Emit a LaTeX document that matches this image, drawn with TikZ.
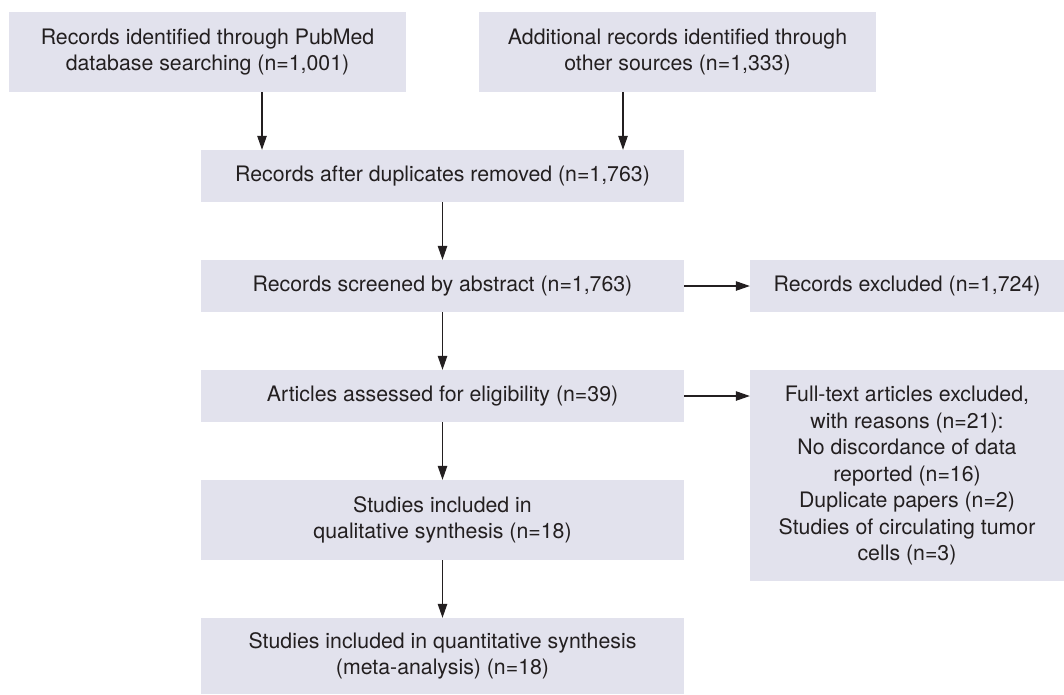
\documentclass[tikz,border=0pt]{standalone}
\usepackage{fontspec}
\setmainfont{TeX Gyre Heros}
\usepackage{tikz}
\usetikzlibrary{arrows.meta}
\usetikzlibrary{calc}
\definecolor{boxgray}{RGB}{226,226,237}
\definecolor{inkgray}{RGB}{35,31,32}
\tikzset{box/.style = {fill=boxgray, text=inkgray, align=center, inner sep=0pt,
                       font=\fontsize{21.3}{26.5}\selectfont}}
\tikzset{flow/.style = {-{Triangle[length=14pt,width=9.5pt]}, line width=1.1pt, draw=inkgray}}

\begin{document}
\begin{tikzpicture}[x=1pt,y=-1pt]
                    \useasboundingbox (0,0) rectangle (1064,694);

                    % Identification
                    \node[box, minimum width=397pt, minimum height=80pt] (pubmed) at (207.5,52)
                        {Records identified through PubMed\\database searching (n=1,001)};
                    \node[box, minimum width=397pt, minimum height=80pt] (other) at (677.5,52)
                        {Additional records identified through\\other sources (n=1,333)};

                    % Main column
                    \node[box, minimum width=483pt, minimum height=52pt] (dedup) at (442.5,176)
                        {Records after duplicates removed (n=1,763)};
                    \node[box, minimum width=483pt, minimum height=52pt] (screen) at (442.5,286)
                        {Records screened by abstract (n=1,763)};
                    \node[box, minimum width=483pt, minimum height=52pt] (elig) at (442.5,396)
                        {Articles assessed for eligibility (n=39)};
                    \node[box, minimum width=483pt, minimum height=80pt] (qual) at (442.5,520)
                        {Studies included in\\qualitative synthesis (n=18)};
                    \node[box, minimum width=483pt, minimum height=76pt] (quant) at (442.5,656)
                        {Studies included in quantitative synthesis\\(meta-analysis) (n=18)};

                    % Exclusions
                    \node[box, minimum width=314pt, minimum height=52pt] (recexcl) at (907,286)
                        {Records excluded (n=1,724)};
                    \node[box, minimum width=314pt, minimum height=211pt] (ftexcl) at (907,475.5)
                        {Full-text articles excluded,\\with reasons (n=21):\\No discordance of data\\reported (n=16)\\Duplicate papers (n=2)\\Studies of circulating tumor\\cells (n=3)};

                    % Arrows into duplicates removed
                    \draw[flow] ([xshift=54.5pt]pubmed.south) -- ([xshift=54.5pt]pubmed.south |- dedup.north);
                    \draw[flow] ([xshift=-54.5pt]other.south) -- ([xshift=-54.5pt]other.south |- dedup.north);

                    % Arrows down the main column
                    \draw[flow] (dedup) -- (screen);
                    \draw[flow] (screen) -- (elig);
                    \draw[flow] (elig) -- (qual);
                    \draw[flow] (qual) -- (quant);

                    % Arrows to the exclusions
                    \draw[flow] (screen) -- (recexcl);
                    \draw[flow] (elig.east) -- (elig.east -| ftexcl.west);
                \end{tikzpicture}
\end{document}
